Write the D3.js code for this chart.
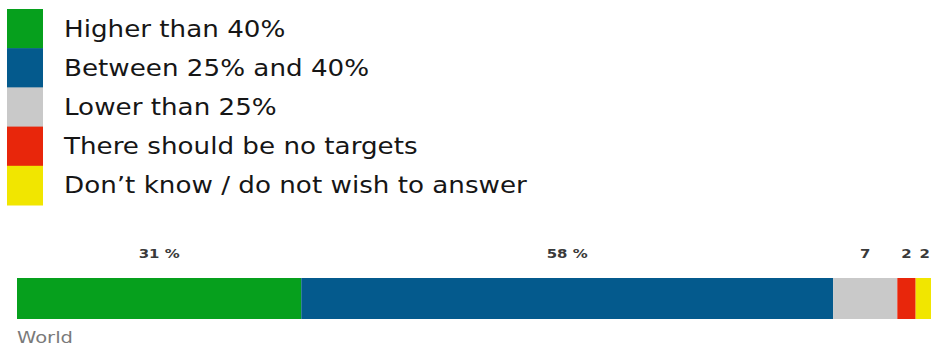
<!DOCTYPE html>
<html>
<head>
<meta charset="utf-8">
<script src="https://cdn.jsdelivr.net/npm/d3@7"></script>
<style>
  body { margin: 0; background: #fff; }
  svg { display: block; }
</style>
</head>
<body>
<div id="chart"></div>
<script>
// data
const categories = ["Higher than 40%", "Between 25% and 40%", "Lower than 25%", "There should be no targets", "Don\u2019t know / do not wish to answer"];
const values = [31, 58, 7, 2, 2];
const valueLabels = ["31 %", "58 %", "7", "2", "2"];
const colors = ["#06a01d", "#045a8d", "#c9c9c9", "#e8260b", "#f1e600"];
const rowName = "World";

const width = 931, height = 347;
const font = "'DejaVu Sans', Verdana, sans-serif";

const svg = d3.select("#chart").append("svg")
    .attr("width", width)
    .attr("height", height);

// stretch text horizontally so it takes the same room as in the picture
const stretchX = (sel, anchorX, targetW) => {
    const w = sel.node().getComputedTextLength();
    const k = targetW / w;
    sel.attr("transform", `translate(${anchorX},0) scale(${k},1) translate(${-anchorX},0)`);
};

// legend
const legendY = d3.scaleBand()
    .domain(categories)
    .range([9, 205]);

const legend = svg.append("g");

legend.selectAll("rect")
    .data(categories)
    .join("rect")
    .attr("x", 7)
    .attr("y", d => legendY(d))
    .attr("width", 36)
    .attr("height", legendY.bandwidth() + 0.5)
    .attr("fill", (d, i) => colors[i]);

const legendText = legend.selectAll("text")
    .data(categories)
    .join("text")
    .attr("x", 64)
    .attr("y", d => legendY(d) + legendY.bandwidth() / 2)
    .attr("dy", "0.36em")
    .attr("font-family", font)
    .attr("font-size", 22.5)
    .attr("fill", "#161616")
    .text(d => d);

// one factor for all rows, from the longest line
const longest = legendText.filter((d, i) => i === categories.length - 1).node().getComputedTextLength();
const kLegend = 463 / longest;
legendText.attr("transform", `translate(64,0) scale(${kLegend},1) translate(-64,0)`);

// stacked bar
const stack = [];
let acc = 0;
values.forEach((v, i) => {
    stack.push({ key: categories[i], start: acc, end: acc + v, label: valueLabels[i], color: colors[i] });
    acc += v;
});

const x = d3.scaleLinear()
    .domain([0, 100])
    .range([17, 934]);

const y = d3.scaleBand()
    .domain([rowName])
    .range([278, 319]);

svg.append("g")
    .selectAll("rect")
    .data(stack)
    .join("rect")
    .attr("x", d => x(d.start))
    .attr("y", y(rowName))
    .attr("width", d => x(d.end) - x(d.start))
    .attr("height", y.bandwidth())
    .attr("fill", d => d.color);

const labels = svg.append("g")
    .selectAll("text")
    .data(stack)
    .join("text")
    .attr("x", d => (x(d.start) + x(d.end)) / 2)
    .attr("y", 258)
    .attr("text-anchor", "middle")
    .attr("font-family", font)
    .attr("font-size", 13)
    .attr("font-weight", "bold")
    .attr("fill", "#3a3a3a")
    .text(d => d.label);

const kLabel = 41 / labels.node().getComputedTextLength();
labels.each(function (d) {
    const cx = (x(d.start) + x(d.end)) / 2;
    d3.select(this).attr("transform", `translate(${cx},0) scale(${kLabel},1) translate(${-cx},0)`);
});

const world = svg.append("text")
    .attr("x", 17)
    .attr("y", 343)
    .attr("font-family", font)
    .attr("font-size", 16)
    .attr("fill", "#7a7a7a")
    .text(rowName);
stretchX(world, 17, 56);
</script>
</body>
</html>
